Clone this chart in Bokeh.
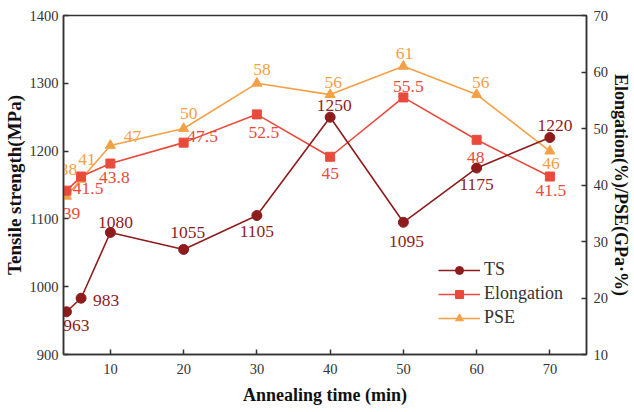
from bokeh.plotting import figure
from bokeh.models import ColumnDataSource, LinearAxis, Range1d, FixedTicker, Legend
from bokeh.core.properties import value
from bokeh.embed import file_html
from bokeh.resources import INLINE

# ---- data ----
time_min = [4, 6, 10, 20, 30, 40, 50, 60, 70]
ts = [963, 983, 1080, 1055, 1105, 1250, 1095, 1175, 1220]
elongation = [39, 41.5, 43.8, 47.5, 52.5, 45, 55.5, 48, 41.5]
pse = [38, 41, 47, 50, 58, 56, 61, 56, 46]

x_ticks = [10, 20, 30, 40, 50, 60, 70]
left_ticks = [900, 1000, 1100, 1200, 1300, 1400]
right_ticks = [10, 20, 30, 40, 50, 60, 70]

# label placement (screen px offsets)
ts_dx = [10, 25, 5, 4, 0, 4, 3, 0, 5]
ts_dy = [14, 2, -10, -17, 16, -12, 19, 16, -12]
el_dx = [5, 7, 4, 19, 7, 0, 5, -1, 1]
el_dy = [23, 12, 14, -6, 18, 17, -11, 18, 14]
pse_dx = [2, 6, 22, 5, 5, 3, 1, 4, 1]
pse_dy = [-27, -20, -9, -15, -14, -12, -13, -12, 12]

C_TS = "#8E1C1C"
C_EL = "#EA4A3C"
C_PSE = "#F5A045"
SERIF = "Liberation Serif"

p = figure(width=634, height=412, output_backend="svg", toolbar_location=None,
           x_range=Range1d(3.6, 75), y_range=Range1d(900, 1400))
p.extra_y_ranges = {"right": Range1d(10, 70)}
p.min_border_left = 63
p.min_border_right = 45
p.min_border_top = 15
p.min_border_bottom = 58
p.xgrid.visible = False
p.ygrid.visible = False
p.outline_line_color = "#333333"
p.outline_line_width = 1.5
p.background_fill_color = "white"
p.border_fill_color = "white"

def style_axis(ax, label, size, standoff):
    ax.axis_label = label
    ax.axis_label_text_font = SERIF
    ax.axis_label_text_font_style = "bold"
    ax.axis_label_text_font_size = size
    ax.axis_label_text_color = "#111111"
    ax.axis_label_standoff = standoff
    ax.major_label_text_font = SERIF
    ax.major_label_text_font_size = "14.5px"
    ax.major_label_text_color = "#333333"
    ax.major_tick_in = 5
    ax.major_tick_out = 0
    ax.minor_tick_in = 0
    ax.minor_tick_out = 0
    ax.axis_line_color = "#333333"
    ax.axis_line_width = 1.5
    ax.major_tick_line_color = "#333333"
    ax.major_tick_line_width = 1.5

xa = p.xaxis[0]
xa.ticker = FixedTicker(ticks=x_ticks)
style_axis(xa, "Annealing time (min)", "18px", 8)
xa.major_label_standoff = 9

ya = p.yaxis[0]
ya.ticker = FixedTicker(ticks=left_ticks)
style_axis(ya, "Tensile strength(MPa)", "19px", 2)
ya.major_label_standoff = 5

ra = LinearAxis(y_range_name="right", ticker=FixedTicker(ticks=right_ticks))
style_axis(ra, "Elongation(%)/PSE(GPa·%)", "18px", 0)
ra.major_label_standoff = 7
p.add_layout(ra, "right")

src_ts = ColumnDataSource(dict(x=time_min, y=ts, t=[f"{v:g}" for v in ts], dx=ts_dx, dy=ts_dy))
src_el = ColumnDataSource(dict(x=time_min, y=elongation, t=[f"{v:g}" for v in elongation], dx=el_dx, dy=el_dy))
src_pse = ColumnDataSource(dict(x=time_min, y=pse, t=[f"{v:g}" for v in pse], dx=pse_dx, dy=pse_dy))

r1 = p.line("x", "y", source=src_pse, color=C_PSE, line_width=1.6, y_range_name="right")
r2 = p.scatter("x", "y", source=src_pse, marker="triangle", size=10, color=C_PSE, y_range_name="right")
r3 = p.line("x", "y", source=src_el, color=C_EL, line_width=1.6, y_range_name="right")
r4 = p.scatter("x", "y", source=src_el, marker="square", size=9, color=C_EL, y_range_name="right")
r5 = p.line("x", "y", source=src_ts, color=C_TS, line_width=1.6)
r6 = p.scatter("x", "y", source=src_ts, marker="circle", size=10, color=C_TS)

for src, col, yr in [(src_ts, C_TS, "default"), (src_el, C_EL, "right"), (src_pse, C_PSE, "right")]:
    p.text("x", "y", text="t", source=src, x_offset="dx", y_offset="dy",
           text_align="center", text_baseline="middle", text_color=col,
           text_font=value(SERIF), text_font_size="17.5px", y_range_name=yr)

legend = Legend(items=[("TS", [r5, r6]), ("Elongation", [r3, r4]), ("PSE", [r1, r2])],
                location=(375, 26))
legend.border_line_color = None
legend.background_fill_alpha = 0
legend.padding = 0
legend.margin = 0
legend.spacing = 3
legend.glyph_width = 42
legend.glyph_height = 20
legend.label_height = 20
legend.label_standoff = 4
legend.label_text_font = SERIF
legend.label_text_font_size = "18px"
legend.label_text_color = "#333333"
p.add_layout(legend, "center")

open("out.html", "w").write(file_html(p, INLINE))
